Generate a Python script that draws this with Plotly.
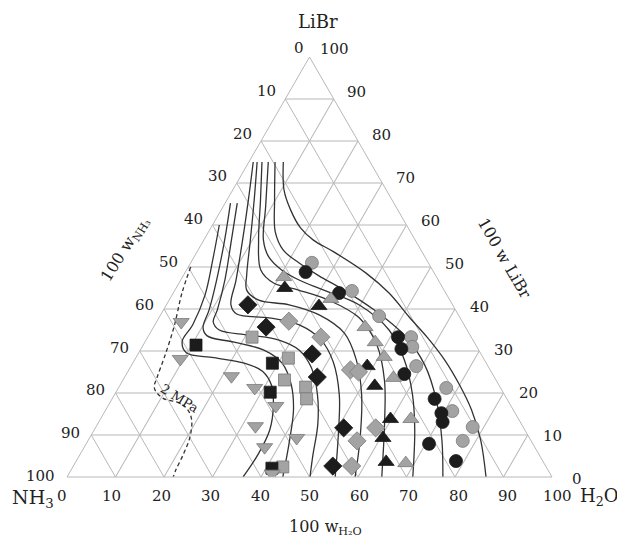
import plotly.graph_objects as go

# ---------------- data (mass percent) ----------------
# isotherm curves: LiBr %, H2O %  (NH3 = 100 - LiBr - H2O)
curve1_libr = [75.0, 68.3, 63.6, 59.3, 56.4, 53.6, 48.6, 43.8, 38.1, 33.3, 27.9, 21.9, 16.0, 8.8, 0.0]
curve1_h2o  = [7.1, 10.6, 14.3, 18.5, 22.6, 28.2, 37.3, 44.5, 51.5, 57.6, 63.9, 70.0, 75.4, 80.9, 86.4]
curve2_libr = [75.0, 66.0, 58.3, 54.0, 51.0, 47.9, 44.8, 39.8, 33.8, 26.7, 18.3, 8.8, 0.0]
curve2_h2o  = [5.4, 9.8, 13.8, 17.6, 22.3, 28.0, 34.3, 43.4, 52.6, 60.4, 67.0, 72.9, 77.5]
curve3_libr = [75.0, 64.3, 56.4, 52.4, 49.3, 46.9, 44.5, 41.0, 35.0, 27.9, 19.5, 11.2, 0.0]
curve3_h2o  = [4.0, 8.8, 12.3, 15.4, 19.6, 24.4, 30.7, 39.7, 48.9, 55.6, 61.5, 66.1, 71.3]
curve4_libr = [75.0, 66.0, 56.4, 49.3, 46.2, 44.5, 42.1, 37.9, 31.4, 23.1, 13.6, 0.0]
curve4_h2o  = [2.7, 6.9, 11.3, 15.3, 19.5, 25.5, 32.9, 41.3, 48.2, 53.9, 58.7, 64.9]
curve5_libr = [75.0, 66.0, 56.4, 48.1, 44.5, 42.1, 41.0, 38.6, 34.3, 27.9, 19.5, 8.8, 0.0]
curve5_h2o  = [1.7, 5.6, 9.6, 13.0, 14.8, 18.5, 25.3, 32.7, 40.0, 45.7, 51.0, 56.0, 59.4]
curve6_libr = [75.0, 66.0, 56.4, 46.9, 41.0, 38.8, 37.9, 36.2, 32.6, 27.4, 19.5, 11.2, 0.0]
curve6_h2o  = [0.9, 4.4, 8.0, 11.4, 13.3, 15.6, 22.7, 29.8, 36.1, 41.2, 46.4, 50.4, 55.3]
curve7_libr = [65.2, 56.4, 46.9, 39.8, 36.9, 35.0, 33.8, 32.6, 30.2, 26.0, 19.5, 12.4, 5.2, 0.0]
curve7_h2o  = [2.5, 5.7, 9.1, 11.1, 11.7, 13.9, 20.6, 27.4, 32.8, 37.4, 41.9, 45.5, 48.1, 50.1]
curve8_libr = [65.2, 56.4, 46.9, 39.8, 35.5, 33.6, 32.1, 30.2, 27.1, 21.9, 16.0, 8.8, 0.0]
curve8_h2o  = [1.1, 4.3, 7.4, 9.4, 10.3, 12.1, 18.4, 25.5, 30.8, 35.3, 38.7, 41.5, 44.5]
curve9_libr = [60.0, 51.7, 43.3, 36.2, 32.3, 29.6, 28.4, 27.1, 25.2, 21.9, 17.1, 11.2, 5.2, 0.0]
curve9_h2o  = [1.4, 4.2, 6.8, 7.8, 7.6, 9.8, 16.1, 23.0, 27.7, 31.2, 34.0, 36.2, 36.7, 36.3]

# 2 MPa boundary (dashed)
mpa2_libr = [50.0, 43.8, 35.7, 28.6, 23.8, 21.2, 18.8, 17.6, 16.0, 13.6, 9.5, 5.2, 1.7, 0.0]
mpa2_h2o  = [0.5, 1.8, 4.2, 5.8, 6.7, 7.4, 10.3, 14.4, 16.9, 18.9, 20.6, 21.3, 21.6, 21.9]

# experimental points: LiBr %, H2O %
circle_black_libr = [48.8, 43.8, 33.3, 30.5, 24.5, 18.6, 15.2, 13.1, 7.9, 3.8]
circle_black_h2o  = [24.8, 34.2, 51.6, 53.7, 57.3, 66.5, 69.6, 70.9, 70.7, 78.3]
circle_gray_libr  = [51.0, 44.3, 38.3, 33.3, 31.0, 26.4, 21.2, 15.7, 11.9, 8.6]
circle_gray_h2o   = [25.0, 36.6, 45.2, 54.3, 55.7, 58.8, 67.6, 71.6, 77.7, 77.3]

tri_black_libr = [45.0, 40.7, 26.4, 21.7, 13.8, 9.3, 3.6]
tri_black_h2o  = [22.4, 31.6, 48.7, 52.6, 59.8, 60.5, 64.0]
tri_gray_libr  = [47.6, 42.4, 35.7, 32.1, 28.6, 23.6, 13.8, 3.3]
tri_gray_h2o   = [20.9, 33.2, 43.6, 47.5, 51.1, 55.5, 64.0, 68.2]

dia_black_libr = [41.0, 35.7, 29.3, 23.8, 11.7, 2.6]
dia_black_h2o  = [16.8, 23.2, 35.9, 39.7, 51.2, 53.5]
dia_gray_libr  = [37.1, 33.3, 25.5, 25.0, 11.7, 8.6, 2.6]
dia_gray_h2o   = [27.2, 35.7, 45.7, 47.6, 57.8, 55.5, 57.4]

sq_black_libr = [31.4, 27.1, 20.2, 2.1]
sq_black_h2o  = [10.9, 28.8, 31.8, 41.2]
sq_gray_libr  = [33.3, 28.3, 23.1, 21.4, 18.6, 2.4]
sq_gray_h2o   = [21.5, 31.5, 33.3, 38.5, 40.1, 43.3]

tdown_gray_libr = [36.9, 28.1, 24.0, 21.2, 16.9, 12.1, 7.1, 9.3, 0.8]
tdown_gray_h2o  = [5.1, 9.3, 21.9, 28.1, 34.6, 32.8, 37.2, 42.7, 41.9]

tick_vals = [0, 10, 20, 30, 40, 50, 60, 70, 80, 90, 100]

# ---------------- figure ----------------
FONT = "DejaVu Serif"
INK = "#222222"
GRID = "#b8b8b8"
BLACK = "#1c1c1c"
GRAY = "#a3a3a3"
W, H = 617, 544
# triangle placement in pixels (left corner, right corner, apex)
XL, XR, XT, YB, YT = 67, 552, 312, 477, 57

fig = go.Figure()

def nh3(libr, h2o):
    return [100 - l - w for l, w in zip(libr, h2o)]

curves = [
    (curve1_libr, curve1_h2o), (curve2_libr, curve2_h2o), (curve3_libr, curve3_h2o),
    (curve4_libr, curve4_h2o), (curve5_libr, curve5_h2o), (curve6_libr, curve6_h2o),
    (curve7_libr, curve7_h2o), (curve8_libr, curve8_h2o), (curve9_libr, curve9_h2o),
]
for libr, h2o in curves:
    fig.add_trace(go.Scatterternary(
        a=libr, b=nh3(libr, h2o), c=h2o, mode="lines",
        line=dict(color="#333333", width=1.3, shape="spline", smoothing=1.0),
        showlegend=False, hoverinfo="skip"))

fig.add_trace(go.Scatterternary(
    a=mpa2_libr, b=nh3(mpa2_libr, mpa2_h2o), c=mpa2_h2o, mode="lines",
    line=dict(color="#333333", width=1.3, dash="4px,3px", shape="spline", smoothing=1.0),
    showlegend=False, hoverinfo="skip"))

markers = [
    (circle_gray_libr, circle_gray_h2o, "circle", GRAY, 13),
    (circle_black_libr, circle_black_h2o, "circle", BLACK, 13),
    (tri_gray_libr, tri_gray_h2o, "triangle-up", GRAY, 14),
    (tri_black_libr, tri_black_h2o, "triangle-up", BLACK, 14),
    (dia_gray_libr, dia_gray_h2o, "diamond", GRAY, 14),
    (dia_black_libr, dia_black_h2o, "diamond", BLACK, 14),
    (sq_gray_libr, sq_gray_h2o, "square", GRAY, 12),
    (sq_black_libr, sq_black_h2o, "square", BLACK, 12),
    (tdown_gray_libr, tdown_gray_h2o, "triangle-down", GRAY, 14),
]
for libr, h2o, sym, col, size in markers:
    fig.add_trace(go.Scatterternary(
        a=libr, b=nh3(libr, h2o), c=h2o, mode="markers",
        marker=dict(symbol=sym, color=col, size=size,
                    line=dict(color="#7a7a7a" if col == GRAY else BLACK, width=0.8)),
        showlegend=False, hoverinfo="skip"))

axis_common = dict(
    tickmode="array", tickvals=tick_vals, showticklabels=False, ticks="",
    showline=True, linecolor=GRID, linewidth=1,
    showgrid=True, gridcolor=GRID, gridwidth=1,
    title=dict(text=""), min=0,
)

fig.update_layout(
    width=W, height=H,
    margin=dict(l=0, r=0, t=0, b=0, pad=0, autoexpand=False),
    paper_bgcolor="white", plot_bgcolor="white",
    font=dict(family=FONT, color=INK),
    ternary=dict(
        sum=100,
        bgcolor="white",
        domain=dict(x=[XL / W, XR / W], y=[1 - YB / H, 1 - YT / H]),
        aaxis=axis_common, baxis=axis_common, caxis=axis_common,
    ),
)

def put(text, px, py, size, angle=0):
    fig.add_annotation(text=text, x=px / W, y=1 - py / H, xref="paper", yref="paper",
                       xanchor="center", yanchor="middle", showarrow=False,
                       textangle=angle, font=dict(family=FONT, size=size, color=INK))

# tick labels placed beside the triangle edges
dx_per = (XT - XL) / 100.0
dy_per = (YB - YT) / 100.0
for v in tick_vals:
    gy = YB - dy_per * v
    # left edge: NH3 percentage (= 100 - LiBr)
    lx = XL + dx_per * v
    off = -27 if v == 0 else (-13 if v == 100 else -21)
    put(str(100 - v), lx + off, gy - 1 - 8 * v / 100, 15)
    # right edge: LiBr percentage
    rx = XR - dx_per * v
    off = 27 if v == 100 else 25
    put(str(v), rx + off, gy + 2 - 10 * v / 100, 15)
    # bottom edge: H2O percentage
    put(str(v), 62 + 4.95 * v, 496, 15)

put("LiBr", 318, 22, 18)
put("NH<sub>3</sub>", 33, 498, 19)
put("H<sub>2</sub>O", 599, 497, 18)
put("100 w<sub>H₂O</sub>", 325, 527, 16)
put("100 w<sub>NH₃</sub>", 125, 250, 16, -58)
put("100 w LiBr", 505, 258, 16, 60)
put("2 MPa", 180, 398, 13, 32)

fig.write_html("out.html", config={"displayModeBar": False},
               post_script="document.body.style.margin='0';")
